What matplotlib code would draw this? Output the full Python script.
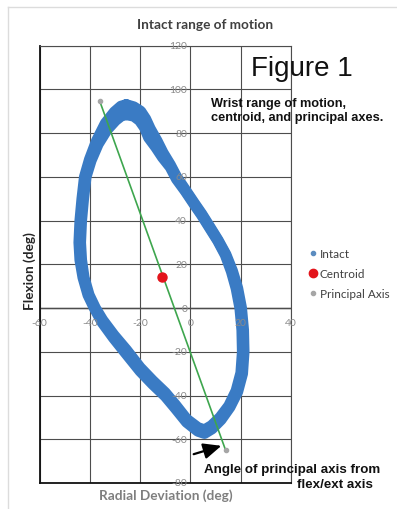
import matplotlib
matplotlib.use("Agg")
import matplotlib.pyplot as plt
from matplotlib.lines import Line2D
from matplotlib.patches import FancyArrowPatch

# ---- data -------------------------------------------------------------
# two recorded cycles of the intact wrist motion (radial deviation, flexion)
cycle1_x = [-25.5, -22.5, -19.8, -17.8, -16.0, -13.3, -10.9, -8.0, -5.5, -2.0,
            1.5, 4.5, 7.5, 11.0, 14.1, 16.7, 18.8, 20.3, 21.1, 21.3, 20.7,
            18.8, 15.7, 12.2, 8.6, 5.6, 3.0, -1.5, -6.0, -10.0, -15.0, -20.0,
            -25.6, -30.6, -35.1, -38.2, -40.7, -42.7, -43.9, -44.3, -43.9,
            -43.1, -42.1, -40.1, -37.3, -33.8, -30.2, -27.6, -25.5]
cycle1_y = [93.0, 92.0, 90.0, 86.5, 82.0, 76.5, 71.0, 65.5, 60.0, 54.0, 48.0,
            43.0, 37.5, 31.0, 24.5, 17.0, 9.0, 0.0, -10.0, -20.0, -30.0,
            -38.2, -45.3, -51.0, -55.2, -57.3, -56.3, -52.2, -45.8, -40.3,
            -34.8, -28.8, -20.8, -13.6, -6.5, 0.0, 6.0, 14.0, 22.0, 30.0,
            40.0, 50.0, 60.0, 68.0, 76.5, 84.5, 89.7, 92.3, 93.0]
cycle2_x = [-25.5, -22.5, -20.2, -18.2, -16.6, -13.7, -11.1, -8.0, -5.5, -2.0,
            1.5, 4.5, 7.5, 10.9, 13.9, 16.3, 18.2, 19.7, 20.5, 20.7, 20.1,
            18.2, 15.3, 11.8, 8.4, 5.6, 3.0, -1.5, -6.0, -10.0, -15.0, -20.0,
            -25.4, -30.4, -34.9, -37.8, -40.3, -42.3, -43.3, -43.7, -43.3,
            -42.5, -41.5, -39.5, -36.7, -33.2, -29.8, -27.4, -25.5]
cycle2_y = [88.5, 87.8, 85.8, 82.5, 78.0, 73.5, 69.0, 64.5, 59.0, 53.5, 47.5,
            42.5, 37.0, 30.8, 24.3, 16.8, 9.0, 0.0, -10.0, -20.0, -29.6,
            -37.8, -44.7, -50.0, -53.8, -55.7, -54.7, -50.8, -44.2, -38.7,
            -33.2, -27.2, -19.2, -12.4, -5.5, 0.0, 6.0, 14.0, 22.0, 30.0,
            40.0, 50.0, 60.0, 67.5, 75.0, 81.5, 85.8, 88.0, 88.5]

centroid_x = [-11.1]
centroid_y = [14.4]

axis_x = [-36, 14]
axis_y = [94.5, -65]

xticks = [-60, -40, -20, 0, 20, 40]
yticks = [-80, -60, -40, -20, 0, 20, 40, 60, 80, 100, 120]

series_labels = ["Intact", "Centroid", "Principal Axis"]

# ---- style ------------------------------------------------------------
BLUE = "#3a7bc4"
RED = "#e3141b"
GREEN = "#3ea64e"
GRAYMK = "#a6a6a6"
TICKGRAY = "#8a8a8a"
GRID = "#4d4d4d"

W, H = 397, 510
fig = plt.figure(figsize=(W / 100, H / 100), dpi=100)


def fx(px):
    return px / W


def fy(py):
    return 1 - py / H


ax = fig.add_axes([fx(39.5), fy(484), fx(291) - fx(39.5), fy(46.7) - fy(484)])
ax.set_xlim(-60, 40)
ax.set_ylim(-80, 120)
ax.set_xticks(xticks)
ax.set_yticks(yticks)
ax.tick_params(length=0, labelbottom=False, labelleft=False)
ax.grid(True, color=GRID, lw=0.8)
ax.set_axisbelow(True)
for side in ("top", "right"):
    ax.spines[side].set_color(GRID)
    ax.spines[side].set_linewidth(0.8)
for side in ("left", "bottom"):
    ax.spines[side].set_color("#111111")
    ax.spines[side].set_linewidth(1.3)
ax.axhline(0, color="#222222", lw=1.0, zorder=0.5)

# motion loop
for cx, cy in ((cycle1_x, cycle1_y), (cycle2_x, cycle2_y)):
    ax.plot(cx, cy, color=BLUE, lw=8, solid_joinstyle="round",
            solid_capstyle="round", zorder=2)

# principal axis and centroid
ax.plot(axis_x, axis_y, color=GREEN, lw=1.2, zorder=3)
ax.plot(axis_x, axis_y, ls="none", marker="o", ms=3, color=GRAYMK, zorder=4)
ax.plot(centroid_x, centroid_y, ls="none", marker="o", ms=6.5, color=RED,
        zorder=5)

# tick labels sit next to the crossing axes
for v in xticks:
    ax.text(v, -6.4, f"{v}", ha="center", va="center", fontsize=7.5,
            color=TICKGRAY, family="Lato")
for v in yticks:
    ax.text(-1.3, v, f"{v}", ha="right", va="center", fontsize=7.5,
            color=TICKGRAY, family="Lato")

# legend
handles = [
    Line2D([], [], ls="none", marker="o", ms=3, color="#5b8cc0"),
    Line2D([], [], ls="none", marker="o", ms=6, color=RED),
    Line2D([], [], ls="none", marker="o", ms=3, color=GRAYMK),
]
leg = fig.legend(handles, series_labels, loc="upper left",
                 bbox_to_anchor=(fx(309), fy(249.5)), frameon=False,
                 prop={"family": "Lato", "size": 8.5}, handlelength=0.7,
                 handletextpad=0.2, labelspacing=0.75, borderpad=0,
                 borderaxespad=0)
for t in leg.get_texts():
    t.set_color("#404040")

# titles and labels
fig.text(fx(205), fy(25), "Intact range of motion", ha="center", va="center",
         fontsize=9.8, fontweight="bold", family="Lato", color="#404040")
fig.text(fx(30), fy(271), "Flexion (deg)", ha="center", va="center",
         rotation=90, fontsize=9.8, fontweight="bold", family="Lato",
         color="#262626")
fig.text(fx(166), fy(496), "Radial Deviation (deg)", ha="center",
         va="center", fontsize=9.8, fontweight="bold", family="Lato",
         color="#7f7f7f")

fig.text(fx(302), fy(69), "Figure 1", ha="center", va="center", fontsize=20,
         family="Liberation Sans", color="#111111")
fig.text(fx(211), fy(111), "Wrist range of motion,\ncentroid, and principal axes.",
         ha="left", va="center", fontsize=9.2, fontweight="bold",
         family="Liberation Sans", color="#111111", linespacing=1.2)
fig.text(fx(204), fy(470), "Angle of principal axis from", ha="left",
         va="center", fontsize=9.6, fontweight="bold",
         family="Liberation Sans", color="#111111")
fig.text(fx(297), fy(485), "flex/ext axis", ha="left", va="center",
         fontsize=9.6, fontweight="bold", family="Liberation Sans",
         color="#111111")

# arrow pointing at the end of the principal axis
fig.add_artist(FancyArrowPatch(
    (fx(191), fy(456)), (fx(224), fy(446)), transform=fig.transFigure,
    arrowstyle="-|>,head_length=9,head_width=4", color="black", lw=1.6,
    mutation_scale=1.2))

# page edges
fig.add_artist(Line2D([fx(8), fx(8)], [0, fy(8)], transform=fig.transFigure,
                      color="#dcdcdc", lw=1))
fig.add_artist(Line2D([fx(8), 1], [fy(8), fy(8)], transform=fig.transFigure,
                      color="#dcdcdc", lw=1))

fig.savefig("out.png", dpi=100)
